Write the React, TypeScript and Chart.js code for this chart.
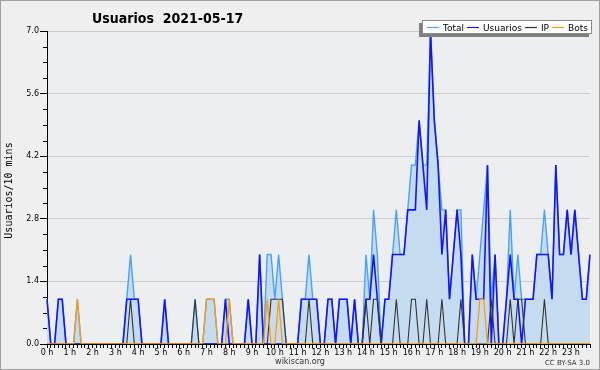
import React, { useEffect, useRef } from "react";
import { Chart, registerables } from "chart.js";

Chart.register(...registerables);

// Tick labels (one per hour) and 10-minute slots per hour
const HOUR_LABELS = [
  "0 h", "1 h", "2 h", "3 h", "4 h", "5 h", "6 h", "7 h", "8 h", "9 h", "10 h", "11 h",
  "12 h", "13 h", "14 h", "15 h", "16 h", "17 h", "18 h", "19 h", "20 h", "21 h", "22 h", "23 h",
];
const SLOTS_PER_HOUR = 6;
const Y_TICKS = [0, 1.4, 2.8, 4.2, 5.6, 7.0];

const TITLE = "Usuarios  2021-05-17";
const Y_TITLE = "Usuarios/10 mins";
const SERIES_NAMES = ["Total", "Usuarios", "IP", "Bots"];

// Values per 10-minute slot (144 slots)
const TOTAL = [
  1, 0, 0, 1, 1, 0, 0, 0, 1, 0, 0, 0,
  0, 0, 0, 0, 0, 0, 0, 0, 0, 1, 2, 1,
  1, 0, 0, 0, 0, 0, 0, 1, 0, 0, 0, 0,
  0, 0, 0, 1, 0, 0, 1, 1, 1, 0, 0, 1,
  1, 0, 0, 0, 0, 1, 0, 0, 2, 0, 2, 2,
  1, 2, 1, 0, 0, 0, 0, 1, 1, 2, 1, 1,
  0, 0, 1, 1, 0, 1, 1, 1, 0, 1, 0, 0,
  2, 1, 3, 2, 0, 1, 1, 2, 3, 2, 2, 3,
  4, 4, 5, 4, 4, 7, 5, 4, 3, 3, 1, 2,
  3, 3, 0, 0, 2, 1, 2, 3, 4, 1, 2, 0,
  0, 1, 3, 1, 2, 1, 1, 1, 1, 2, 2, 3,
  2, 1, 4, 2, 2, 3, 2, 3, 2, 1, 1, 2,
];
const USUARIOS = [
  1, 0, 0, 1, 1, 0, 0, 0, 0, 0, 0, 0,
  0, 0, 0, 0, 0, 0, 0, 0, 0, 1, 1, 1,
  1, 0, 0, 0, 0, 0, 0, 1, 0, 0, 0, 0,
  0, 0, 0, 0, 0, 0, 0, 0, 0, 0, 0, 1,
  0, 0, 0, 0, 0, 1, 0, 0, 2, 0, 0, 0,
  0, 0, 0, 0, 0, 0, 0, 1, 1, 1, 1, 1,
  0, 0, 1, 1, 0, 1, 1, 1, 0, 1, 0, 0,
  1, 1, 2, 1, 0, 1, 1, 2, 2, 2, 2, 3,
  3, 3, 5, 4, 3, 7, 5, 4, 2, 3, 1, 2,
  3, 2, 0, 0, 2, 1, 1, 1, 4, 0, 2, 0,
  0, 1, 2, 1, 1, 0, 1, 1, 1, 2, 2, 2,
  2, 1, 4, 2, 2, 3, 2, 3, 2, 1, 1, 2,
];
const IP = [
  0, 0, 0, 0, 0, 0, 0, 0, 0, 0, 0, 0,
  0, 0, 0, 0, 0, 0, 0, 0, 0, 0, 1, 0,
  0, 0, 0, 0, 0, 0, 0, 0, 0, 0, 0, 0,
  0, 0, 0, 1, 0, 0, 0, 0, 0, 0, 0, 0,
  0, 0, 0, 0, 0, 0, 0, 0, 0, 0, 0, 1,
  1, 1, 1, 0, 0, 0, 0, 0, 0, 1, 0, 0,
  0, 0, 0, 0, 0, 0, 0, 0, 0, 0, 0, 0,
  1, 0, 1, 1, 0, 0, 0, 0, 1, 0, 0, 0,
  1, 1, 0, 0, 1, 0, 0, 0, 1, 0, 0, 0,
  0, 1, 0, 0, 0, 0, 0, 0, 0, 1, 0, 0,
  0, 0, 1, 0, 1, 1, 0, 0, 0, 0, 0, 1,
  0, 0, 0, 0, 0, 0, 0, 0, 0, 0, 0, 0,
];
const BOTS = [
  0, 0, 0, 0, 0, 0, 0, 0, 1, 0, 0, 0,
  0, 0, 0, 0, 0, 0, 0, 0, 0, 0, 0, 0,
  0, 0, 0, 0, 0, 0, 0, 0, 0, 0, 0, 0,
  0, 0, 0, 0, 0, 0, 1, 1, 1, 0, 0, 0,
  1, 0, 0, 0, 0, 0, 0, 0, 0, 0, 1, 0,
  0, 1, 0, 0, 0, 0, 0, 0, 0, 0, 0, 0,
  0, 0, 0, 0, 0, 0, 0, 0, 0, 0, 0, 0,
  0, 0, 0, 0, 0, 0, 0, 0, 0, 0, 0, 0,
  0, 0, 0, 0, 0, 0, 0, 0, 0, 0, 0, 0,
  0, 0, 0, 0, 0, 0, 1, 1, 0, 0, 0, 0,
  0, 0, 0, 0, 0, 0, 0, 0, 0, 0, 0, 0,
  0, 0, 0, 0, 0, 0, 0, 0, 0, 0, 0, 0,
];

const COLORS = {
  total: "#47a3f5",
  totalFill: "#c5dcf0",
  usuarios: "#1414ff",
  ip: "#333333",
  bots: "#ff9a0a",
};

const SANS = '"DejaVu Sans", "Liberation Sans", sans-serif';
const MONO = '"DejaVu Sans Mono", "Liberation Mono", monospace';

const decor = {
  id: "decor",
  beforeDraw(chart: any) {
    const { ctx, chartArea: a } = chart;
    ctx.save();
    ctx.fillStyle = "#efefef";
    ctx.fillRect(0, 0, chart.width, chart.height);
    ctx.fillStyle = "#edeef0";
    ctx.fillRect(a.left, a.top, a.right - a.left, a.bottom - a.top);
    ctx.restore();
  },
  afterDraw(chart: any) {
    const { ctx, chartArea: a } = chart;
    const y = chart.scales.y;
    ctx.save();
    // minor y ticks
    ctx.strokeStyle = "#000";
    ctx.lineWidth = 1;
    for (let i = 0; i < Y_TICKS.length - 1; i++) {
      for (let k = 1; k < 4; k++) {
        const v = Y_TICKS[i] + ((Y_TICKS[i + 1] - Y_TICKS[i]) * k) / 4;
        const py = Math.round(y.getPixelForValue(v)) + 0.5;
        ctx.beginPath();
        ctx.moveTo(a.left - 4, py);
        ctx.lineTo(a.left, py);
        ctx.stroke();
      }
    }
    // title (slightly condensed bold)
    ctx.fillStyle = "#000";
    ctx.font = `bold 14px ${SANS}`;
    ctx.textAlign = "left";
    ctx.textBaseline = "alphabetic";
    ctx.save();
    ctx.translate(92, 23);
    ctx.scale(0.9, 1);
    ctx.fillText(TITLE, 0, 0);
    ctx.restore();
    // y title
    ctx.save();
    ctx.translate(12, (a.top + a.bottom) / 2 + 3);
    ctx.rotate(-Math.PI / 2);
    ctx.font = `10px ${MONO}`;
    ctx.textAlign = "center";
    ctx.fillText(Y_TITLE, 0, 0);
    ctx.restore();
    // legend
    const colors = [COLORS.total, COLORS.usuarios, COLORS.ip, COLORS.bots];
    ctx.font = `9px ${SANS}`;
    const bx = 422, by = 20, bw = 170, bh = 14;
    ctx.fillStyle = "#808080";
    ctx.fillRect(bx - 3, by + 3, bw, bh);
    ctx.fillStyle = "#ffffff";
    ctx.fillRect(bx, by, bw, bh);
    ctx.strokeStyle = "#8a8a8a";
    ctx.lineWidth = 1;
    ctx.strokeRect(bx + 0.5, by + 0.5, bw - 1, bh - 1);
    let x = 427;
    SERIES_NAMES.forEach((name, i) => {
      ctx.strokeStyle = colors[i];
      ctx.lineWidth = 1.2;
      ctx.beginPath();
      ctx.moveTo(x, by + 7.5);
      ctx.lineTo(x + 12, by + 7.5);
      ctx.stroke();
      ctx.fillStyle = "#000";
      ctx.fillText(name, x + 16, by + 11);
      x += 16 + ctx.measureText(name).width + 3;
    });
    // footers
    ctx.fillStyle = "#333";
    ctx.font = `8px ${SANS}`;
    ctx.textAlign = "center";
    ctx.fillText("wikiscan.org", 300, 364);
    ctx.font = `7px ${SANS}`;
    ctx.textAlign = "right";
    ctx.fillText("CC BY-SA 3.0", 590, 365);
    // frame
    ctx.strokeStyle = "#a0a0a0";
    ctx.lineWidth = 1;
    ctx.strokeRect(0.5, 0.5, chart.width - 1, chart.height - 1);
    ctx.restore();
  },
};

export default function App() {
  const ref = useRef<HTMLCanvasElement>(null);
  useEffect(() => {
    document.body.style.margin = "0";
    const slots = TOTAL.map((_, i) => i);
    const mk = (label: string, data: number[], color: string, width: number, order: number, extra: any = {}) => ({
      label,
      data,
      borderColor: color,
      borderWidth: width,
      pointRadius: 0,
      tension: 0,
      fill: false,
      order,
      ...extra,
    });
    const chart = new Chart(ref.current as HTMLCanvasElement, {
      type: "line",
      data: {
        labels: slots,
        datasets: [
          mk("Total", TOTAL, COLORS.total, 1.4, 4, { fill: "origin", backgroundColor: COLORS.totalFill }),
          mk("Usuarios", USUARIOS, COLORS.usuarios, 1.6, 3),
          mk("IP", IP, COLORS.ip, 1.1, 2),
          mk("Bots", BOTS, COLORS.bots, 1.3, 1),
        ],
      },
      options: {
        animation: false,
        responsive: false,
        events: [],
        layout: { padding: { top: 31, right: 10, left: 0, bottom: 0 } },
        plugins: { legend: { display: false }, title: { display: false }, tooltip: { enabled: false } },
        scales: {
          x: {
            type: "category",
            offset: false,
            grid: { drawOnChartArea: false, drawTicks: true, tickLength: 4, tickColor: "#000" },
            border: { color: "#000" },
            ticks: {
              autoSkip: false,
              maxRotation: 0,
              minRotation: 0,
              padding: 0,
              color: "#000",
              font: { family: SANS, size: 8 },
              callback: (_v: any, i: number) => (i % SLOTS_PER_HOUR === 0 ? HOUR_LABELS[i / SLOTS_PER_HOUR] : ""),
            },
            afterFit: (s: any) => {
              s.height = 26;
            },
          },
          y: {
            type: "linear",
            min: 0,
            max: 7,
            afterBuildTicks: (s: any) => {
              s.ticks = Y_TICKS.map((v) => ({ value: v }));
            },
            grid: {
              color: (c: any) => (c.tick && c.tick.value === 0 ? "rgba(0,0,0,0)" : "#cbcbcb"),
              tickColor: "#000",
              tickLength: 7,
            },
            border: { color: "#000" },
            ticks: {
              padding: 1,
              color: "#000",
              font: { family: SANS, size: 8 },
              callback: (v: any) => Number(v).toFixed(1),
            },
            afterFit: (s: any) => {
              s.width = 47;
            },
          },
        },
      },
      plugins: [decor],
    } as any);
    return () => chart.destroy();
  }, []);
  return (
    <div style={{ position: "absolute", left: 0, top: 0, width: 600, height: 370 }}>
      <canvas ref={ref} width={600} height={370} style={{ display: "block", width: 600, height: 370 }} />
    </div>
  );
}
